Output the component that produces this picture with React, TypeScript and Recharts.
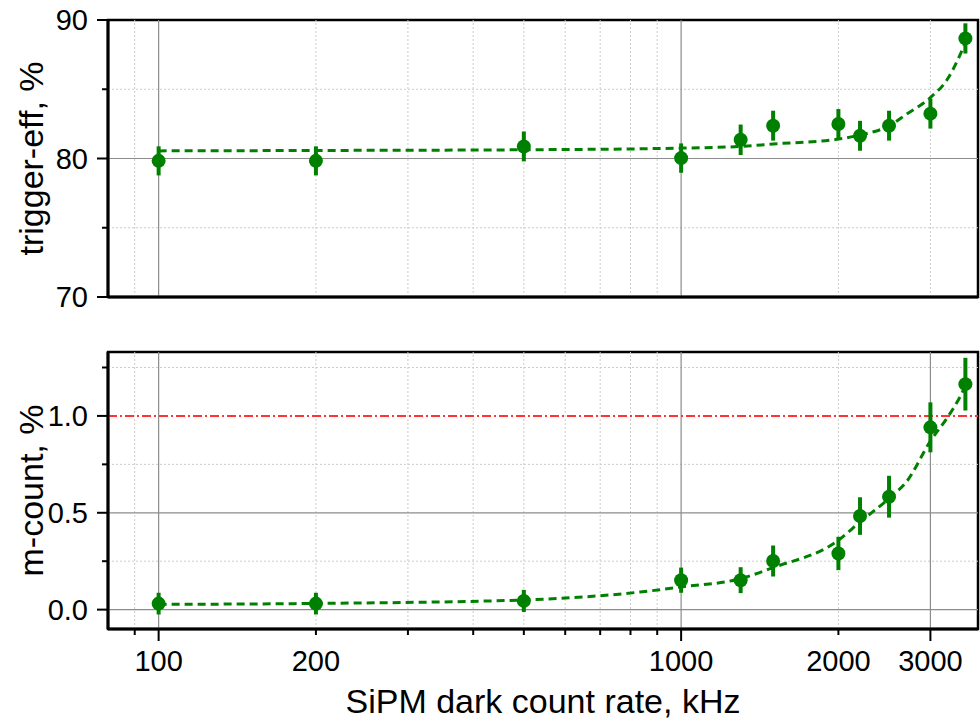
import React from 'react';
import { ComposedChart, Line, Scatter, ErrorBar, XAxis, YAxis, ReferenceLine, ReferenceArea } from 'recharts';

// measured points (SiPM dark count rate, kHz)
const rates = [100, 200, 500, 1000, 1300, 1500, 2000, 2200, 2500, 3000, 3500];
const triggerEff = [79.83, 79.83, 80.87, 80.03, 81.35, 82.37, 82.49, 81.64, 82.37, 83.24, 88.67];
const triggerErr = [1.05, 1.05, 1.08, 1.06, 1.1, 1.08, 1.08, 1.08, 1.08, 1.08, 1.09];
const mCount = [0.031, 0.031, 0.045, 0.152, 0.152, 0.251, 0.29, 0.483, 0.583, 0.941, 1.164];
const mCountErr = [0.056, 0.056, 0.057, 0.065, 0.067, 0.08, 0.086, 0.097, 0.108, 0.129, 0.136];

// dashed fit curves
const fitRates = [100, 200, 500, 835, 1000, 1300, 1500, 2000, 2200, 2500, 2700, 3000, 3230, 3420, 3520];
const triggerFit = [80.55, 80.58, 80.63, 80.7, 80.75, 80.87, 81.05, 81.4, 81.7, 82.35, 83.2, 84.4, 85.7, 87.5, 88.6];
const mCountFit = [0.027, 0.032, 0.05, 0.091, 0.117, 0.16, 0.217, 0.358, 0.453, 0.574, 0.66, 0.87, 0.99, 1.1, 1.17];

// axes
const xDomain = [80, 3700];
const xTicks = [90, 100, 200, 300, 400, 500, 600, 700, 800, 900, 1000, 2000, 3000];
const xLabels = [100, 200, 1000, 2000, 3000];
const xMajorTicks = [100, 1000, 3000];
const topVGridMajor = [100, 1000];
const topVGridMinor = [90, 200, 300, 400, 500, 600, 700, 800, 900, 2000, 3000];
const botVGridMajor = [100, 1000, 3000];
const botVGridMinor = [90, 200, 300, 400, 500, 600, 700, 800, 900, 2000];

const topYTicks = [70, 75, 80, 85, 90];
const topYLabels = [70, 80, 90];
const topHGridMajor = [80];
const topHGridMinor = [75, 85];
const botYTicks = [0, 0.25, 0.5, 0.75, 1.0, 1.25];
const botYLabels = [0, 0.5, 1.0];
const botHGridMajor = [0, 0.5];
const botHGridMinor = [0.25, 0.75, 1.25];
const limitLine = 1.0;

const GREEN = '#008000';
const FONT = '"Liberation Sans", Arial, sans-serif';

const topPoints = rates.map((x, i) => ({ x, y: triggerEff[i], err: triggerErr[i] }));
const botPoints = rates.map((x, i) => ({ x, y: mCount[i], err: mCountErr[i] }));
const topFitData = fitRates.map((x, i) => ({ x, y: triggerFit[i] }));
const botFitData = fitRates.map((x, i) => ({ x, y: mCountFit[i] }));

const makeYTick = (labels: number[], digits: number) => ({ x, y, payload }: any) => {
  const v = payload.value;
  const labelled = labels.some((l) => Math.abs(l - v) < 1e-9);
  return (
    <g>
      <line x1={x - (labelled ? 11 : 6)} x2={x} y1={y} y2={y} stroke="#000" strokeWidth={2} />
      {labelled && (
        <text x={x - 20} y={y} dy="0.36em" textAnchor="end" fontSize={29} fill="#000" fontFamily={FONT}>
          {v.toFixed(digits)}
        </text>
      )}
    </g>
  );
};

const XTick = ({ x, y, payload }: any) => {
  const v = payload.value;
  const major = xMajorTicks.includes(v);
  return (
    <g>
      <line x1={x} x2={x} y1={y} y2={y + (major ? 12 : 6)} stroke="#000" strokeWidth={2} />
      {xLabels.includes(v) && (
        <text x={x} y={y + 42} textAnchor="middle" fontSize={29} fill="#000" fontFamily={FONT}>
          {v}
        </text>
      )}
    </g>
  );
};

const Dot = (p: any) => <circle cx={p.cx} cy={p.cy} r={7} fill={GREEN} />;

export default function App() {
  return (
    <div style={{ position: 'absolute', left: 0, top: 0, width: 980, height: 722, background: '#fff', fontFamily: FONT }}>
      <div style={{ position: 'absolute', left: 0, top: 0 }}>
        <ComposedChart width={980} height={320} margin={{ top: 20, right: 2, bottom: 0, left: 0 }}>
          <XAxis
            dataKey="x"
            type="number"
            scale="log"
            domain={xDomain}
            allowDataOverflow
            ticks={xTicks}
            tick={false}
            tickLine={false}
            height={23}
            axisLine={{ stroke: '#000', strokeWidth: 3 }}
          />
          <YAxis
            type="number"
            domain={[70, 90]}
            allowDataOverflow
            ticks={topYTicks}
            width={108}
            tickSize={0}
            tickMargin={0}
            tickLine={false}
            tick={makeYTick(topYLabels, 0)}
            axisLine={{ stroke: '#000', strokeWidth: 3 }}
            label={{ value: 'trigger-eff, %', angle: -90, position: 'insideLeft', offset: 31, style: { textAnchor: 'middle', fontSize: 34, fill: '#000', fontFamily: FONT } }}
          />
          {topVGridMinor.map((v) => (
            <ReferenceLine key={`tvm${v}`} x={v} stroke="#cccccc" strokeDasharray="2 2" />
          ))}
          {topHGridMinor.map((v) => (
            <ReferenceLine key={`thm${v}`} y={v} stroke="#cccccc" strokeDasharray="2 2" />
          ))}
          {topVGridMajor.map((v) => (
            <ReferenceLine key={`tvM${v}`} x={v} stroke="#8c8c8c" strokeWidth={1.2} />
          ))}
          {topHGridMajor.map((v) => (
            <ReferenceLine key={`thM${v}`} y={v} stroke="#8c8c8c" strokeWidth={1.2} />
          ))}
          <ReferenceArea x1={xDomain[0]} x2={xDomain[1]} y1={70} y2={90} fill="none" stroke="#000" strokeWidth={2.5} />
          <Line
            data={topFitData}
            dataKey="y"
            type="monotone"
            stroke={GREEN}
            strokeWidth={3}
            strokeDasharray="8 5"
            dot={false}
            activeDot={false}
            isAnimationActive={false}
          />
          <Scatter data={topPoints} dataKey="y" shape={Dot} isAnimationActive={false}>
            <ErrorBar dataKey="err" direction="y" width={0} strokeWidth={4} stroke={GREEN} />
          </Scatter>
        </ComposedChart>
      </div>

      <div style={{ position: 'absolute', left: 0, top: 330 }}>
        <ComposedChart width={980} height={392} margin={{ top: 22, right: 2, bottom: 0, left: 0 }}>
          <XAxis
            dataKey="x"
            type="number"
            scale="log"
            domain={xDomain}
            allowDataOverflow
            ticks={xTicks}
            tickSize={0}
            tickMargin={0}
            tickLine={false}
            tick={<XTick />}
            interval={0}
            height={93}
            axisLine={{ stroke: '#000', strokeWidth: 3 }}
            label={{ value: 'SiPM dark count rate, kHz', position: 'insideBottom', offset: 9, style: { fontSize: 34, fill: '#000', fontFamily: FONT } }}
          />
          <YAxis
            type="number"
            domain={[-0.1, 1.33]}
            allowDataOverflow
            ticks={botYTicks}
            width={108}
            tickSize={0}
            tickMargin={0}
            tickLine={false}
            tick={makeYTick(botYLabels, 1)}
            interval={0}
            axisLine={{ stroke: '#000', strokeWidth: 3 }}
            label={{ value: 'm-count, %', angle: -90, position: 'insideLeft', offset: 31, style: { textAnchor: 'middle', fontSize: 34, fill: '#000', fontFamily: FONT } }}
          />
          {botVGridMinor.map((v) => (
            <ReferenceLine key={`bvm${v}`} x={v} stroke="#cccccc" strokeDasharray="2 2" />
          ))}
          {botHGridMinor.map((v) => (
            <ReferenceLine key={`bhm${v}`} y={v} stroke="#cccccc" strokeDasharray="2 2" />
          ))}
          {botVGridMajor.map((v) => (
            <ReferenceLine key={`bvM${v}`} x={v} stroke="#8c8c8c" strokeWidth={1.2} />
          ))}
          {botHGridMajor.map((v) => (
            <ReferenceLine key={`bhM${v}`} y={v} stroke="#8c8c8c" strokeWidth={1.2} />
          ))}
          <ReferenceLine y={limitLine} stroke="#ff3333" strokeWidth={2} strokeDasharray="9 3 2 3" />
          <ReferenceArea x1={xDomain[0]} x2={xDomain[1]} y1={-0.1} y2={1.33} fill="none" stroke="#000" strokeWidth={2.5} />
          <Line
            data={botFitData}
            dataKey="y"
            type="monotone"
            stroke={GREEN}
            strokeWidth={3}
            strokeDasharray="8 5"
            dot={false}
            activeDot={false}
            isAnimationActive={false}
          />
          <Scatter data={botPoints} dataKey="y" shape={Dot} isAnimationActive={false}>
            <ErrorBar dataKey="err" direction="y" width={0} strokeWidth={4} stroke={GREEN} />
          </Scatter>
        </ComposedChart>
      </div>
    </div>
  );
}
